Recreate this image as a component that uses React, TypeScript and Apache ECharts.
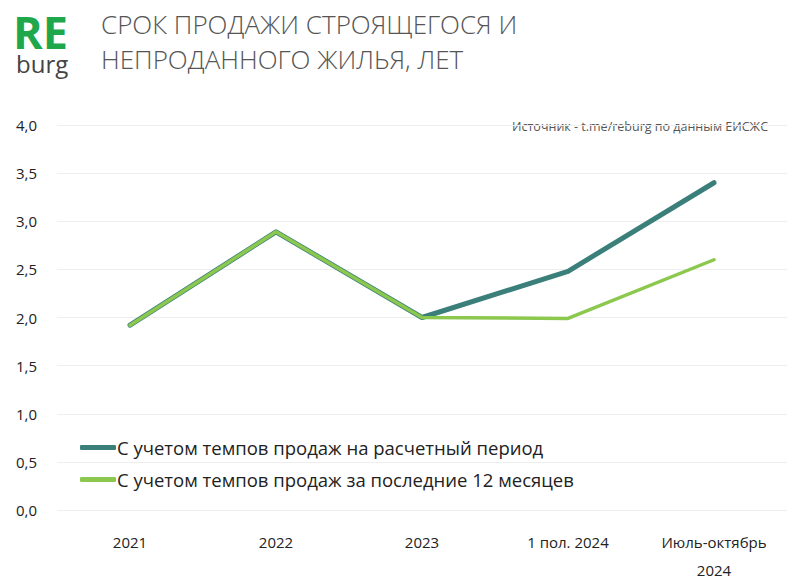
import React, { useEffect, useRef } from "react";
import * as echarts from "echarts";

const categories = ["2021", "2022", "2023", "1 пол. 2024", "Июль-октябрь\n2024"];
const seriesNames = [
  "С учетом темпов продаж на расчетный период",
  "С учетом темпов продаж за последние 12 месяцев",
];
const calcPeriod = [1.92, 2.89, 2.0, 2.48, 3.4];
const last12 = [1.92, 2.89, 2.0, 1.99, 2.6];
const yTicks = { min: 0, max: 4, interval: 0.5 };

const DARK = "#3b7f7b";
const LIGHT = "#8cc84e";

export default function App() {
  const ref = useRef<HTMLDivElement>(null);
  useEffect(() => {
    if (!ref.current) return;
    const chart = echarts.init(ref.current, undefined, { renderer: "svg" });
    const font = "'Open Sans', 'Noto Sans', sans-serif";
    chart.setOption({
      animation: false,
      backgroundColor: "#ffffff",
      textStyle: { fontFamily: font },
      grid: { left: 57, right: 13, top: 125, bottom: 74, containLabel: false },
      graphic: [
        {
          type: "text",
          x: 13,
          y: 31,
          style: {
            text: "RE",
            fill: "#1fa84b",
            font: "bold 45px 'Open Sans', sans-serif",
            verticalAlign: "middle",
            lineHeight: 32,
          },
        },
        {
          type: "text",
          x: 16,
          y: 63,
          style: {
            text: "burg",
            fill: "#444444",
            font: "24px 'Open Sans', sans-serif",
            verticalAlign: "middle",
            lineHeight: 24,
          },
        },
        {
          type: "text",
          left: 101,
          top: 6,
          style: {
            text: "СРОК ПРОДАЖИ СТРОЯЩЕГОСЯ И\nНЕПРОДАННОГО ЖИЛЬЯ, ЛЕТ",
            fill: "#555555",
            font: "300 26px 'Open Sans', sans-serif",
            lineHeight: 35,
          },
        },
        {
          type: "text",
          right: 32,
          top: 120,
          style: {
            text: "Источник - t.me/reburg по данным ЕИСЖС",
            fill: "#555555",
            font: "12.5px 'Open Sans', sans-serif",
          },
        },
      ],
      legend: {
        orient: "vertical",
        left: 75,
        top: 433,
        itemWidth: 36,
        itemHeight: 5,
        itemGap: 13,
        icon: "roundRect",
        textStyle: { fontSize: 18.5, color: "#222222", fontFamily: font, padding: [0, 0, 0, -4] },
        data: seriesNames,
      },
      xAxis: {
        type: "category",
        data: categories,
        boundaryGap: true,
        axisLine: { show: false },
        axisTick: { show: false },
        axisLabel: { fontSize: 15, color: "#222222", margin: 18, lineHeight: 28, fontFamily: font },
      },
      yAxis: {
        type: "value",
        min: yTicks.min,
        max: yTicks.max,
        interval: yTicks.interval,
        axisLine: { show: false },
        axisTick: { show: false },
        splitLine: { lineStyle: { color: "#eeeeee", width: 1 } },
        axisLabel: {
          fontSize: 15,
          color: "#222222",
          margin: 20,
          fontFamily: font,
          formatter: (v: number) => v.toFixed(1).replace(".", ","),
        },
      },
      series: [
        {
          name: seriesNames[0],
          type: "line",
          data: calcPeriod,
          symbol: "none",
          lineStyle: { color: DARK, width: 5, cap: "round", join: "round" },
          itemStyle: { color: DARK },
          z: 2,
        },
        {
          name: seriesNames[1],
          type: "line",
          data: last12,
          symbol: "none",
          lineStyle: { color: LIGHT, width: 3.5, cap: "round", join: "round" },
          itemStyle: { color: LIGHT },
          z: 3,
        },
      ],
    });
    return () => chart.dispose();
  }, []);
  return <div ref={ref} style={{ width: 800, height: 584, position: "absolute", left: 0, top: 0 }} />;
}
